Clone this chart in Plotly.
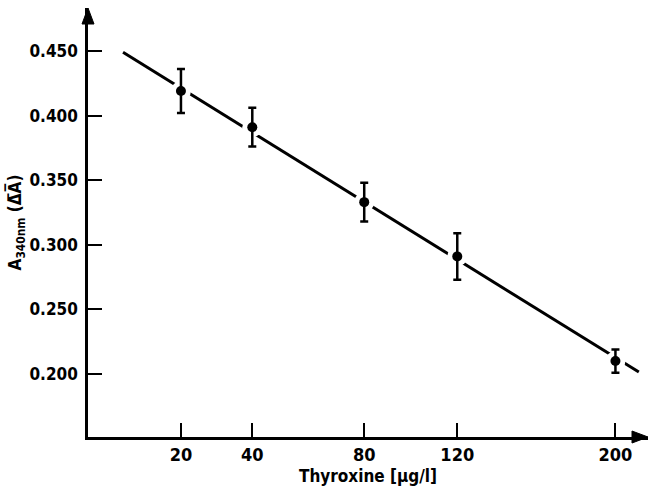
import plotly.graph_objects as go

# Data
conc = [20, 40, 80, 120, 200]                 # Thyroxine [µg/l]
absorb = [0.419, 0.391, 0.333, 0.291, 0.210]  # A340nm (ΔA)
err = [0.017, 0.015, 0.015, 0.018, 0.009]
fit_conc = [7.7, 213]                          # regression line ends
fit_abs = [0.449, 0.2015]
x_ticks = [20, 40, 80, 120, 200]
y_ticks = [0.200, 0.250, 0.300, 0.350, 0.400, 0.450]

# The original x axis is a non-linear (power) scale
POWER = 0.65
def sx(v):
    return [c ** POWER for c in v]

FONT = "DejaVu Sans Condensed"

fig = go.Figure()
fig.add_trace(go.Scatter(x=sx(fit_conc), y=fit_abs, mode="lines",
                         line=dict(color="black", width=3), hoverinfo="skip"))
# white halos to break the line around the points
fig.add_trace(go.Scatter(x=sx(conc), y=absorb, mode="markers",
                         marker=dict(color="white", size=20), hoverinfo="skip"))
fig.add_trace(go.Scatter(x=sx(conc), y=absorb, mode="markers",
                         marker=dict(color="black", size=10),
                         error_y=dict(type="data", array=err, color="black",
                                      thickness=2.5, width=4)))

fig.update_layout(
    width=653, height=487,
    margin=dict(l=88, r=5, t=8, b=50),
    paper_bgcolor="white", plot_bgcolor="white",
    showlegend=False,
    font=dict(family=FONT, color="black", size=17, weight="bold"),
)
fig.update_xaxes(
    range=[1.81, 33.13], tickvals=sx(x_ticks), ticktext=[str(t) for t in x_ticks],
    ticks="inside", ticklen=14, tickwidth=2, tickcolor="black", automargin=False,
    showline=True, linecolor="black", linewidth=2.5, showgrid=False, zeroline=False,
    tickfont=dict(size=18, family=FONT, weight="bold"),
    title=dict(text="Thyroxine [µg/l]", standoff=6,
               font=dict(size=17, family=FONT, weight="bold")),
)
fig.update_yaxes(
    range=[0.1512, 0.4833], tickvals=y_ticks, ticktext=[f"{t:.3f}" for t in y_ticks],
    ticks="inside", ticklen=14, tickwidth=2, tickcolor="black", automargin=False,
    showline=True, linecolor="black", linewidth=2.5, showgrid=False, zeroline=False,
    ticklabelstandoff=4,
    tickfont=dict(size=17, family=FONT, weight="bold"),
    title=dict(text="A<sub>340nm</sub> (\u0394\u0305A\u0305)", standoff=4,
               font=dict(size=17, family=FONT, weight="bold")),
)
# axis arrowheads as pixel-sized shapes anchored at the axis ends
fig.add_shape(type="path", xref="paper", yref="paper", xsizemode="pixel",
              ysizemode="pixel", xanchor=1, yanchor=0,
              path="M 0 0 L -16 6 L -16 -6 Z", fillcolor="black",
              line=dict(color="black", width=1))
fig.add_shape(type="path", xref="paper", yref="paper", xsizemode="pixel",
              ysizemode="pixel", xanchor=0, yanchor=1,
              path="M 0 0 L -6 -16 L 6 -16 Z", fillcolor="black",
              line=dict(color="black", width=1))

fig.write_html("out.html")
